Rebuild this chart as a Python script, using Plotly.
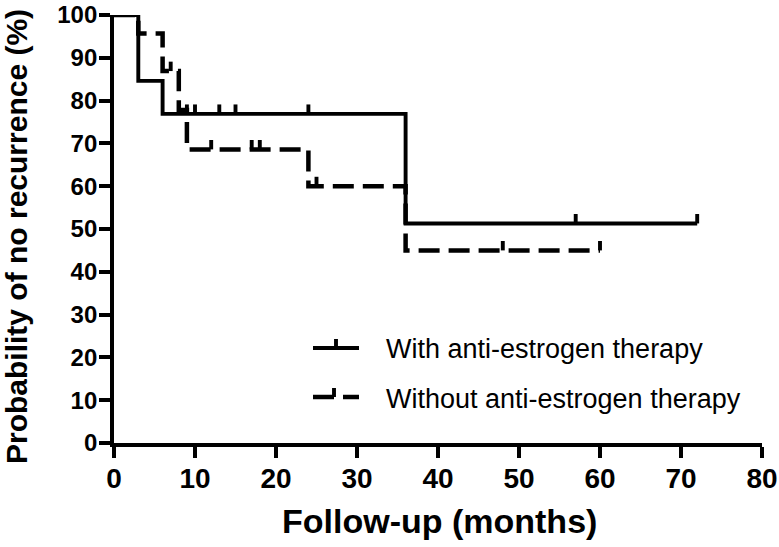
import numpy as np
import plotly.graph_objects as go

# ---- data ----
with_times = [0, 3, 6, 36, 72]
with_surv = [100, 84.6, 76.9, 51.3, 51.3]
with_censor = [9, 10, 13, 15, 24, 57, 72]

without_times = [0, 3, 6, 8, 9, 24, 36, 60]
without_surv = [100, 95.7, 86.9, 77.8, 68.6, 60.0, 45.0, 45.0]
without_censor = [7, 12, 17, 18, 25, 48, 60]

x_ticks = [0, 10, 20, 30, 40, 50, 60, 70, 80]
y_ticks = [0, 10, 20, 30, 40, 50, 60, 70, 80, 90, 100]

series_names = ["With anti-estrogen therapy", "Without anti-estrogen therapy"]
x_title = "Follow-up (months)"
y_title = "Probability of no recurrence (%)"

TICK_H = 2.2  # censor tick height in % units
LW = 3.9


def step_value(times, surv, t):
    idx = np.searchsorted(np.array(times), t, side="right") - 1
    return surv[max(idx, 0)]


def censor_segments(times, surv, cens):
    xs, ys = [], []
    for c in cens:
        v = step_value(times, surv, c)
        xs += [c, c, None]
        ys += [v, v + TICK_H, None]
    return xs, ys


fig = go.Figure()

# solid curve
fig.add_trace(go.Scatter(x=with_times, y=with_surv, mode="lines", line_shape="hv",
                         line=dict(color="black", width=LW), cliponaxis=False,
                         showlegend=False, name=series_names[0]))
cx, cy = censor_segments(with_times, with_surv, with_censor)
fig.add_trace(go.Scatter(x=cx, y=cy, mode="lines", line=dict(color="black", width=LW),
                         cliponaxis=False, showlegend=False))

# dashed curve
fig.add_trace(go.Scatter(x=without_times, y=without_surv, mode="lines", line_shape="hv",
                         line=dict(color="black", width=LW + 0.6, dash="21px,9px"),
                         cliponaxis=False, showlegend=False, name=series_names[1]))
cx, cy = censor_segments(without_times, without_surv, without_censor)
fig.add_trace(go.Scatter(x=cx, y=cy, mode="lines", line=dict(color="black", width=LW),
                         cliponaxis=False, showlegend=False))

# ---- layout geometry ----
W, H = 779, 547
L, T = 114, 15
PW, PH = 648, 428
R = W - L - PW
B = H - T - PH


def px_x(p):
    return (p - L) / PW


def px_y(p):
    return 1 - (p - T) / PH


shapes = []
# solid legend line
shapes.append(dict(type="line", xref="paper", yref="paper",
                   x0=px_x(313), x1=px_x(359), y0=px_y(348), y1=px_y(348),
                   line=dict(color="black", width=LW)))
shapes.append(dict(type="line", xref="paper", yref="paper",
                   x0=px_x(336), x1=px_x(336), y0=px_y(348), y1=px_y(339),
                   line=dict(color="black", width=LW)))
# dashed legend line
shapes.append(dict(type="line", xref="paper", yref="paper",
                   x0=px_x(313), x1=px_x(334), y0=px_y(397), y1=px_y(397),
                   line=dict(color="black", width=LW + 0.6)))
shapes.append(dict(type="line", xref="paper", yref="paper",
                   x0=px_x(343), x1=px_x(359), y0=px_y(397), y1=px_y(397),
                   line=dict(color="black", width=LW + 0.6)))
shapes.append(dict(type="line", xref="paper", yref="paper",
                   x0=px_x(334), x1=px_x(334), y0=px_y(397), y1=px_y(388),
                   line=dict(color="black", width=LW)))

annotations = []
for name, yp in zip(series_names, [349, 399]):
    annotations.append(dict(text=name, xref="paper", yref="paper", x=px_x(384), y=px_y(yp),
                            xanchor="left", yanchor="middle", showarrow=False,
                            font=dict(family="Liberation Sans, Arial", size=27, color="black")))
# axis titles
annotations.append(dict(text=x_title, xref="paper", yref="paper", x=px_x(439), y=px_y(521),
                        xanchor="center", yanchor="middle", showarrow=False,
                        font=dict(family="Liberation Sans, Arial", size=34, color="black",
                                  weight="bold")))
annotations.append(dict(text=y_title, xref="paper", yref="paper", x=px_x(16), y=px_y(237),
                        xanchor="center", yanchor="middle", showarrow=False, textangle=-90,
                        font=dict(family="Liberation Sans, Arial", size=30, color="black",
                                  weight="bold")))

fig.update_layout(
    width=W, height=H,
    margin=dict(l=L, r=R, t=T, b=B, autoexpand=False),
    paper_bgcolor="white", plot_bgcolor="white",
    shapes=shapes, annotations=annotations,
    xaxis=dict(range=[0, 80], tickvals=x_ticks, ticktext=[str(v) for v in x_ticks],
               automargin=False, ticklabeloverflow="allow",
               showgrid=False, zeroline=False, showline=True, linecolor="black", linewidth=LW,
               ticks="outside", ticklen=11, tickwidth=LW, tickcolor="black",
               ticklabelstandoff=-4,
               tickfont=dict(family="Liberation Sans Narrow, Arial Narrow, Liberation Sans", size=28,
                             color="black", weight="bold")),
    yaxis=dict(range=[0, 100], tickvals=y_ticks, ticktext=[str(v) for v in y_ticks],
               automargin=False, ticklabeloverflow="allow",
               showgrid=False, zeroline=False, showline=True, linecolor="black", linewidth=LW,
               ticks="outside", ticklen=11, tickwidth=LW, tickcolor="black",
               ticklabelstandoff=-3,
               tickfont=dict(family="Liberation Sans, Arial", size=24, color="black", weight="bold")),
)

fig.write_html("out.html", config={"displayModeBar": False},
               post_script="document.body.style.margin='0';document.body.style.overflow='hidden';")
